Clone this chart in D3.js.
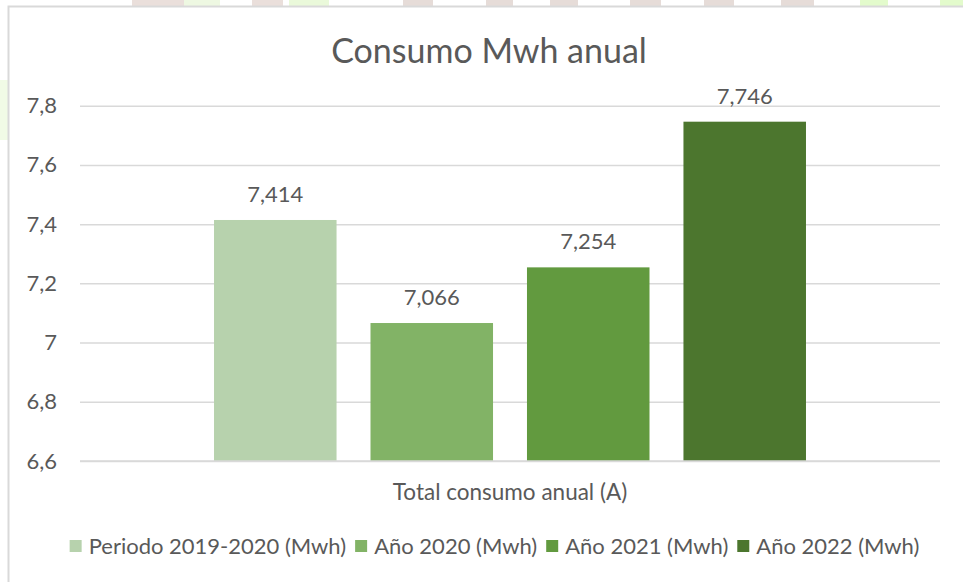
<!DOCTYPE html>
<html>
<head>
<meta charset="utf-8">
<script src="https://cdn.jsdelivr.net/npm/d3@7"></script>
<style>
  html, body { margin: 0; padding: 0; background: #fff; }
  svg text { font-family: Lato, "Open Sans", sans-serif; fill: #595959; }
</style>
</head>
<body>
<div class="container"></div>
<script>
// datos del grafico
var category = ["Total consumo anual (A)"];
var series = ["Periodo 2019-2020 (Mwh)", "Año 2020 (Mwh)", "Año 2021 (Mwh)", "Año 2022 (Mwh)"];
var values = [7.414, 7.066, 7.254, 7.746];
var colors = ["#b7d2ad", "#82b366", "#629a3f", "#4c762e"];
var yTicks = [6.6, 6.8, 7, 7.2, 7.4, 7.6, 7.8];

var w = 963, h = 582;
var plotLeft = 80, plotRight = 940, plotTop = 105.7, plotBottom = 461;

var svg = d3.select(".container").append("svg")
  .attr("width", w)
  .attr("height", h);

// fondo decorativo de la pagina (franja superior)
var deco = [[132, 52, "#eadfdb"], [184, 36, "#eef8e2"], [252, 31, "#eadfdb"], [289, 40, "#eaf9da"],
  [403, 30, "#e6dcd8"], [486, 27, "#e6dcd8"], [550, 28, "#e6dcd8"], [630, 31, "#e6dcd8"],
  [704, 30, "#e6dcd8"], [781, 33, "#e6dcd8"], [860, 28, "#e3fbcc"], [940, 23, "#e3fbcc"]];
svg.selectAll(".deco").data(deco).enter().append("rect")
  .attr("x", function(d) { return d[0]; })
  .attr("y", 0)
  .attr("width", function(d) { return d[1]; })
  .attr("height", 6)
  .attr("fill", function(d) { return d[2]; });
svg.append("rect").attr("x", 0).attr("y", 80).attr("width", 8).attr("height", 60).attr("fill", "#f1fbe6");

// marco del grafico
svg.append("rect")
  .attr("x", 8.5).attr("y", 6.5)
  .attr("width", w).attr("height", h)
  .attr("fill", "#fff")
  .attr("stroke", "#d9d9d9")
  .attr("stroke-width", 2);

// escalas
var y = d3.scaleLinear().domain([6.6, 7.8]).range([plotBottom, plotTop]);
var x0 = d3.scaleBand().domain(category).range([plotLeft, plotRight]).paddingInner(0).paddingOuter(0.2264);
var x1 = d3.scaleBand().domain(series).range([0, x0.bandwidth()]).paddingInner(0.217).paddingOuter(0);

// lineas de cuadricula
var yAxis = d3.axisLeft(y)
  .tickValues(yTicks)
  .tickSize(-(plotRight - plotLeft))
  .tickPadding(23)
  .tickFormat(function(d) { return String(d).replace(".", ","); });

var gy = svg.append("g")
  .attr("class", "yaxis")
  .attr("transform", "translate(" + plotLeft + ",0)")
  .call(yAxis);
gy.select(".domain").remove();
gy.selectAll(".tick line").attr("stroke", "#d9d9d9").attr("stroke-width", 1.5);
gy.selectAll(".tick text").attr("font-size", 22).style("fill", "#595959")
  .style("font-family", "Lato, sans-serif");

// barras
var g = svg.append("g").attr("transform", "translate(" + x0(category[0]) + ",0)");
g.selectAll(".bar").data(values).enter().append("rect")
  .attr("class", "bar")
  .attr("x", function(d, i) { return x1(series[i]); })
  .attr("y", function(d) { return y(d); })
  .attr("width", x1.bandwidth())
  .attr("height", function(d) { return y(6.6) - y(d); })
  .attr("fill", function(d, i) { return colors[i]; });

// etiquetas de datos
g.selectAll(".lbl").data(values).enter().append("text")
  .attr("class", "lbl")
  .attr("x", function(d, i) { return x1(series[i]) + x1.bandwidth() / 2; })
  .attr("y", function(d) { return y(d) - 18; })
  .attr("text-anchor", "middle")
  .attr("font-size", 22)
  .text(function(d) { return d3.format(".3f")(d).replace(".", ","); });

// eje x (linea base)
svg.append("line")
  .attr("x1", plotLeft).attr("x2", plotRight)
  .attr("y1", plotBottom).attr("y2", plotBottom)
  .attr("stroke", "#d9d9d9").attr("stroke-width", 1.5);

svg.append("text")
  .attr("x", x0(category[0]) + x0.bandwidth() / 2)
  .attr("y", 500)
  .attr("text-anchor", "middle")
  .attr("font-size", 22.5)
  .text(category[0]);

// titulo
svg.append("text")
  .attr("x", 489)
  .attr("y", 63)
  .attr("text-anchor", "middle")
  .attr("font-size", 34)
  .text("Consumo Mwh anual");

// leyenda: se mide cada texto y se centra la fila
var leg = svg.append("g").attr("class", "legend");
var items = leg.selectAll(".leg").data(series).enter().append("g").attr("class", "leg");
items.append("rect")
  .attr("y", -12)
  .attr("width", 12).attr("height", 12)
  .attr("fill", function(d, i) { return colors[i]; });
items.append("text")
  .attr("x", 19).attr("y", 2)
  .attr("font-size", 22)
  .text(function(d) { return d; });
var pos = 0;
items.each(function() {
  var tw = d3.select(this).select("text").node().getComputedTextLength();
  d3.select(this).attr("transform", "translate(" + pos + ",0)");
  pos += 19 + tw + 9;
});
var legW = pos - 9;
leg.attr("transform", "translate(" + (494.5 - legW / 2) + ",552)");
</script>
</body>
</html>
